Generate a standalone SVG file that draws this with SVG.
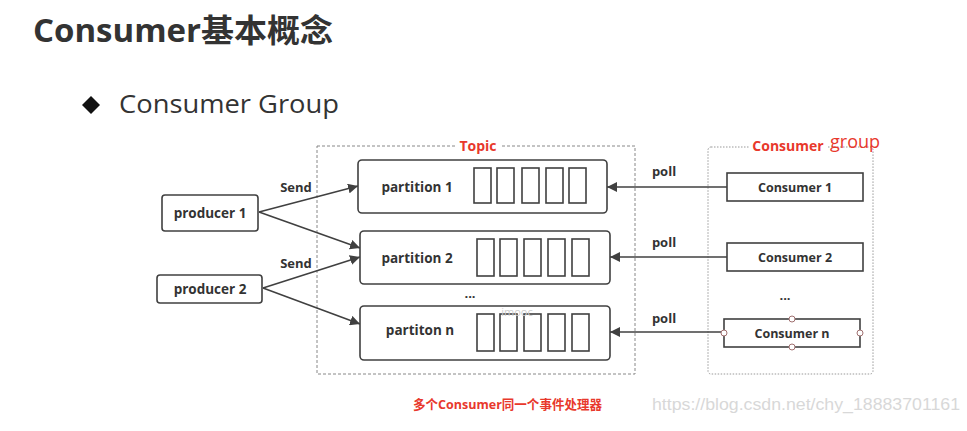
<svg xmlns="http://www.w3.org/2000/svg" width="967" height="431" viewBox="0 0 967 431">
<defs>
<marker id="ah" viewBox="0 0 10 10" refX="10" refY="5" markerWidth="10" markerHeight="10" markerUnits="userSpaceOnUse" orient="auto">
<path d="M0,0 L10,5 L0,10 z" fill="#404040"/>
</marker>
<style>
.t{font-family:"Open Sans","Noto Sans CJK SC",sans-serif;fill:#333}
.b{font-weight:bold}
.box{fill:#fff;stroke:#404040;stroke-width:1.6}
.cell{fill:#fff;stroke:#404040;stroke-width:1.6}
.ln{fill:none;stroke:#404040;stroke-width:1.6}
</style>
</defs>
<rect width="967" height="431" fill="#fff"/>
<text class="t b" x="33" y="42" font-size="32" fill="#222" textLength="300" lengthAdjust="spacingAndGlyphs">Consumer基本概念</text>
<path d="M91,96 L100,105 L91,114 L82,105 z" fill="#111"/>
<text class="t" x="119" y="113" font-size="26" fill="#222" textLength="220" lengthAdjust="spacingAndGlyphs">Consumer Group</text>

<g id="topic">
<rect x="317" y="146" width="318" height="228" fill="none" stroke="#888" stroke-width="1" stroke-dasharray="3,2"/>
<rect x="456" y="140" width="44" height="12" fill="#fff"/>
<text class="t b" x="478" y="151" font-size="14" text-anchor="middle" style="fill:#e8382c">Topic</text>
</g>
<g id="consumer-group">
<rect x="708" y="147" width="165" height="227" rx="3" fill="none" stroke="#999" stroke-width="1" stroke-dasharray="1.5,1.5"/>
<rect x="750" y="140" width="78" height="12" fill="#fff"/>
<text class="t b" x="788" y="151" font-size="14" text-anchor="middle" style="fill:#e8382c">Consumer</text>
<text x="830" y="148" font-size="18" font-family="Open Sans, sans-serif" fill="#e8382c">group</text>
</g>

<g id="connectors">
<line class="ln" x1="259" y1="212" x2="358" y2="186" marker-end="url(#ah)"/>
<line class="ln" x1="259" y1="212" x2="360" y2="248" marker-end="url(#ah)"/>
<line class="ln" x1="263" y1="288" x2="360" y2="257" marker-end="url(#ah)"/>
<line class="ln" x1="263" y1="288" x2="360" y2="324" marker-end="url(#ah)"/>
<line class="ln" x1="727" y1="187" x2="607" y2="187" marker-end="url(#ah)"/>
<line class="ln" x1="727" y1="257" x2="610" y2="257" marker-end="url(#ah)"/>
<line class="ln" x1="724" y1="332" x2="610" y2="332" marker-end="url(#ah)"/>
<text class="t b" x="296" y="192" font-size="13" text-anchor="middle">Send</text>
<text class="t b" x="296" y="268" font-size="13" text-anchor="middle">Send</text>
<text class="t b" x="664" y="176" font-size="13" text-anchor="middle">poll</text>
<text class="t b" x="664" y="247" font-size="13" text-anchor="middle">poll</text>
<text class="t b" x="664" y="323" font-size="13" text-anchor="middle">poll</text>
</g>

<g id="producer1">
<rect class="box" x="162" y="195" width="96" height="36" rx="3"/>
<text class="t b" x="210" y="218" font-size="13.5" text-anchor="middle">producer 1</text>
</g>
<g id="producer2">
<rect class="box" x="157" y="275" width="105" height="28" rx="3"/>
<text class="t b" x="210" y="294" font-size="13.5" text-anchor="middle">producer 2</text>
</g>

<g id="partition1">
<rect class="box" x="358" y="160" width="249" height="53" rx="4"/>
<text class="t b" x="417" y="192" font-size="13.5" text-anchor="middle">partition 1</text>
<rect class="cell" x="474" y="168" width="17" height="35"/>
<rect class="cell" x="497" y="168" width="17" height="35"/>
<rect class="cell" x="522" y="168" width="17" height="35"/>
<rect class="cell" x="546" y="168" width="17" height="35"/>
<rect class="cell" x="569" y="168" width="17" height="35"/>
</g>
<g id="partition2">
<rect class="box" x="360" y="231" width="250" height="53" rx="4"/>
<text class="t b" x="417" y="263" font-size="13.5" text-anchor="middle">partition 2</text>
<rect class="cell" x="477" y="239" width="17" height="37"/>
<rect class="cell" x="500" y="239" width="17" height="37"/>
<rect class="cell" x="524" y="239" width="17" height="37"/>
<rect class="cell" x="548" y="239" width="17" height="37"/>
<rect class="cell" x="572" y="239" width="17" height="37"/>
</g>
<text class="t b" x="470" y="298" font-size="13" text-anchor="middle">...</text>
<g id="partitionn">
<rect class="box" x="360" y="306" width="250" height="54" rx="4"/>
<text class="t b" x="420" y="335" font-size="13.5" text-anchor="middle">partiton n</text>
<rect class="cell" x="477" y="314" width="17" height="37"/>
<rect class="cell" x="500" y="314" width="17" height="37"/>
<rect class="cell" x="524" y="314" width="17" height="37"/>
<rect class="cell" x="548" y="314" width="17" height="37"/>
<rect class="cell" x="572" y="314" width="17" height="37"/>
<text x="517" y="316" font-size="11" font-family="Open Sans, sans-serif" fill="#ccc" text-anchor="middle">imooc</text>
</g>

<g id="consumer1">
<rect class="box" x="727" y="173" width="136" height="28"/>
<text class="t b" x="795" y="192" font-size="12.5" text-anchor="middle">Consumer 1</text>
</g>
<g id="consumer2">
<rect class="box" x="727" y="243" width="136" height="28"/>
<text class="t b" x="795" y="262" font-size="12.5" text-anchor="middle">Consumer 2</text>
</g>
<text class="t b" x="785" y="300" font-size="13" text-anchor="middle">...</text>
<g id="consumern">
<rect class="box" x="724" y="319" width="136" height="28"/>
<text class="t b" x="792" y="338" font-size="12.5" text-anchor="middle">Consumer n</text>
<g fill="#fff" stroke="#a07070" stroke-width="1">
<circle cx="724" cy="333" r="3"/>
<circle cx="860" cy="333" r="3"/>
<circle cx="792" cy="319" r="3"/>
<circle cx="792" cy="347" r="3"/>
</g>
</g>

<text x="413" y="409" font-size="13" font-weight="bold" font-family="Open Sans, Noto Sans CJK SC, sans-serif" fill="#e8382c" textLength="189" lengthAdjust="spacingAndGlyphs">多个Consumer同一个事件处理器</text>
<text x="652" y="410" font-size="16" font-family="Liberation Sans, sans-serif" fill="#d8d8d8" textLength="308" lengthAdjust="spacingAndGlyphs">https://blog.csdn.net/chy_18883701161</text>
</svg>
